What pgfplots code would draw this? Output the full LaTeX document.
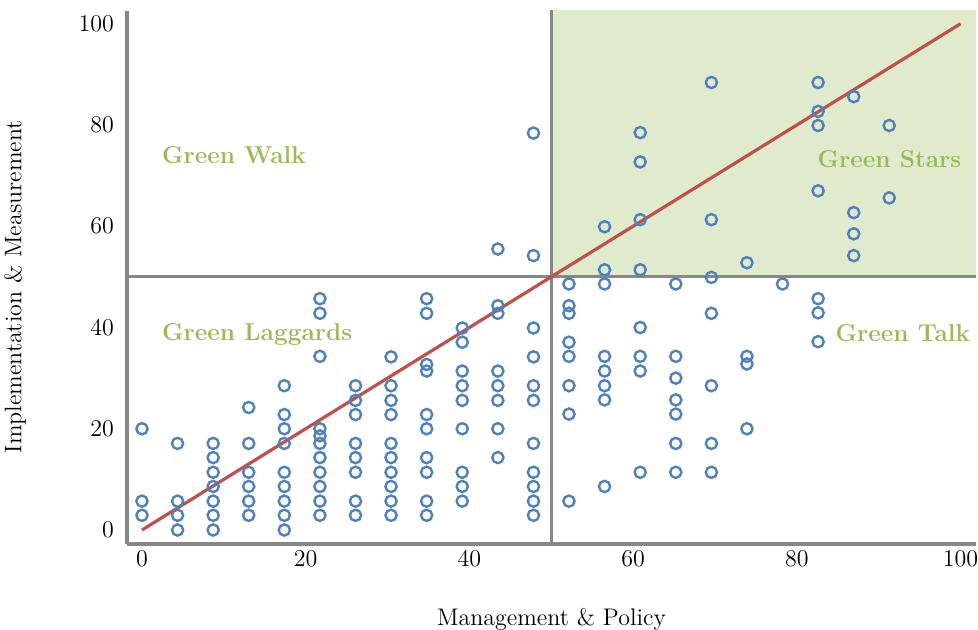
\documentclass[border=0pt]{standalone}
\usepackage{pgfplots}
\pgfplotsset{compat=1.18}
\usepackage{pgfplotstable}

\definecolor{axgray}{HTML}{878787}
\definecolor{ptblue}{HTML}{4F81BD}
\definecolor{trendred}{HTML}{C0504D}
\definecolor{qgreen}{HTML}{9BBB59}
\definecolor{qfill}{HTML}{E0EACD}

% firms: management & policy (x) vs implementation & measurement (y)
\pgfplotstableread{
x y
0 20
0 5.7
0 2.9
4.35 17.1
4.35 5.7
4.35 2.9
4.35 0
8.70 17.1
8.70 14.3
8.70 11.4
8.70 8.6
8.70 5.7
8.70 2.9
8.70 0
13.04 24.2
13.04 17.1
13.04 11.4
13.04 8.6
13.04 5.7
13.04 2.9
17.39 28.5
17.39 22.8
17.39 20
17.39 17.1
17.39 11.4
17.39 8.6
17.39 5.7
17.39 2.9
17.39 0
21.74 45.7
21.74 42.8
21.74 34.3
21.74 20
21.74 18.6
21.74 17.1
21.74 14.3
21.74 11.4
21.74 8.6
21.74 5.7
21.74 2.9
26.09 28.5
26.09 25.6
26.09 22.8
26.09 17.1
26.09 14.3
26.09 11.4
26.09 5.7
26.09 2.9
30.43 34.2
30.43 28.5
30.43 25.6
30.43 22.8
30.43 17.1
30.43 14.3
30.43 11.4
30.43 8.6
30.43 5.7
30.43 2.9
34.78 45.7
34.78 42.8
34.78 32.7
34.78 31.4
34.78 22.8
34.78 20
34.78 14.3
34.78 11.4
34.78 5.7
34.78 2.9
39.13 39.9
39.13 37.1
39.13 31.4
39.13 28.5
39.13 25.6
39.13 20
39.13 11.4
39.13 8.6
39.13 5.7
43.48 55.5
43.48 44.3
43.48 42.8
43.48 31.4
43.48 28.5
43.48 25.6
43.48 20
43.48 14.3
47.83 78.4
47.83 54.2
47.83 39.9
47.83 34.2
47.83 28.5
47.83 25.6
47.83 17.1
47.83 11.4
47.83 8.6
47.83 5.7
47.83 2.9
52.17 48.6
52.17 44.3
52.17 42.8
52.17 37.1
52.17 34.3
52.17 28.5
52.17 22.9
52.17 5.7
56.52 59.9
56.52 51.4
56.52 48.6
56.52 34.3
56.52 31.4
56.52 28.5
56.52 25.7
56.52 8.6
60.87 78.5
60.87 72.7
60.87 61.3
60.87 51.4
60.87 40
60.87 34.3
60.87 31.4
60.87 11.4
65.22 48.6
65.22 34.3
65.22 30
65.22 25.7
65.22 22.9
65.22 17.1
65.22 11.4
69.57 88.4
69.57 61.3
69.57 49.9
69.57 42.8
69.57 28.5
69.57 17.1
69.57 11.4
73.91 52.8
73.91 34.3
73.91 32.8
73.91 20
78.26 48.6
82.61 88.4
82.61 82.7
82.61 79.9
82.61 67
82.61 45.7
82.61 42.9
82.61 37.2
86.96 85.6
86.96 62.7
86.96 58.5
86.96 54.2
91.30 79.9
91.30 65.6
}\firms

\begin{document}
\begin{tikzpicture}[font=\fontsize{12}{14}\selectfont,
    quad/.style={anchor=west, inner sep=0pt, text=qgreen,
        font=\bfseries\fontsize{12.2}{15}\selectfont}]
\begin{axis}[
    name=ax,
    scale only axis,
    width=424.5pt, height=266.7pt,
    xmin=-1.83, xmax=101.9,
    ymin=-2.77, ymax=102.6,
    axis lines*=left,
    axis line style={draw=axgray, line width=2pt},
    xtick={0,20,...,100},
    ytick={0,20,...,100},
    major tick length=0pt,
    tick style={draw=none},
    yticklabel style={xshift=-3pt},
    xlabel={Management \& Policy},
    ylabel={Implementation \& Measurement},
    xlabel style={at={(axis description cs:0.5,-0.107)}, anchor=north},
    ylabel style={at={(axis description cs:-0.1107,0.482)}, anchor=south},
]

% Green Stars quadrant
\addplot[draw=none, fill=qfill] coordinates {(50,50) (110,50) (110,110) (50,110)} -- cycle;

% quadrant dividers
\addplot[draw=axgray, line width=1.6pt] coordinates {(50,-5) (50,110)};
\addplot[draw=axgray, line width=1.6pt] coordinates {(-5,50) (110,50)};

\addplot[only marks, mark=o, mark size=2.8pt,
    mark options={line width=1.2pt, draw=ptblue}] table[x=x, y=y] {\firms};

% diagonal
\addplot[trendred, line width=1.6pt] coordinates {(0,0) (100,100)};

\node[quad] at (axis cs:2.4,74.1) {Green Walk};
\node[quad] at (axis cs:2.4,38.7) {Green Laggards};
\node[quad] at (axis cs:82.5,73.3) {Green Stars};
\node[quad] at (axis cs:84.7,38.9) {Green Talk};
\end{axis}
\pgfresetboundingbox
\path (ax.south west) ++(-63.5pt,-42.5pt) rectangle ++(489pt,314.5pt);
\end{tikzpicture}
\end{document}
